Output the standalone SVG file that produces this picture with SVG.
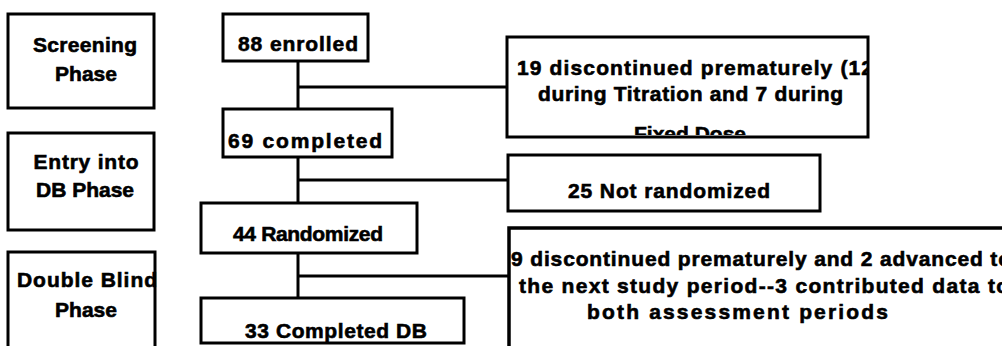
<svg xmlns="http://www.w3.org/2000/svg" width="1002" height="346" viewBox="0 0 1002 346">
<style>
.box{fill:#fff;stroke:#000;stroke-width:3}
.ln{stroke:#000;stroke-width:3;fill:none}
text{font-family:"Liberation Sans",Arial,sans-serif;font-weight:bold;font-size:21px;fill:#000;stroke:#000;stroke-width:0.6}
.m{text-anchor:middle}
</style>
<defs>
<clipPath id="c19"><rect x="508" y="38" width="359" height="97"/></clipPath>
<clipPath id="c9"><rect x="510" y="230" width="500" height="120"/></clipPath>
</defs>
<rect width="1002" height="346" fill="#fff"/>
<g id="connectors">
<line class="ln" x1="298" y1="61" x2="298" y2="108"/>
<line class="ln" x1="298" y1="157" x2="298" y2="203"/>
<line class="ln" x1="298" y1="253" x2="298" y2="298"/>
<line class="ln" x1="298" y1="87" x2="507" y2="87"/>
<line class="ln" x1="298" y1="180" x2="508" y2="180"/>
<line class="ln" x1="298" y1="276" x2="509" y2="276"/>
</g>
<g id="phase-screening">
<rect class="box" x="8" y="14" width="146" height="94"/>
<text class="m" x="85" y="52" textLength="104" lengthAdjust="spacing">Screening</text>
<text class="m" x="86" y="81">Phase</text>
</g>
<g id="phase-entry">
<rect class="box" x="8" y="133" width="146" height="97"/>
<text class="m" x="86" y="169" textLength="105" lengthAdjust="spacing">Entry  into</text>
<text class="m" x="85" y="197">DB Phase</text>
</g>
<g id="phase-db">
<rect class="box" x="8" y="252" width="147" height="110"/>
<text x="17" y="287" textLength="140" lengthAdjust="spacing">Double Blind</text>
<text class="m" x="86" y="317">Phase</text>
</g>
<g id="enrolled">
<rect class="box" x="223" y="14" width="145" height="47"/>
<text x="238" y="51" textLength="120" lengthAdjust="spacing">88  enrolled</text>
</g>
<g id="completed69">
<rect class="box" x="223" y="109" width="169" height="48"/>
<text x="228" y="148" textLength="154" lengthAdjust="spacing">69  completed</text>
</g>
<g id="randomized44">
<rect class="box" x="201" y="203" width="216" height="50"/>
<text x="233" y="241" textLength="150" lengthAdjust="spacing">44 Randomized</text>
</g>
<g id="completed33">
<rect class="box" x="201" y="298" width="263" height="45"/>
<text x="245" y="338" textLength="182" lengthAdjust="spacing">33 Completed DB</text>
</g>
<g id="discontinued19">
<rect class="box" x="507" y="37" width="361" height="100"/>
<g clip-path="url(#c19)">
<text x="517" y="75" textLength="356" lengthAdjust="spacing">19  discontinued  prematurely  (12</text>
<text x="538" y="101" textLength="305" lengthAdjust="spacing">during  Titration  and  7  during</text>
<text class="m" x="690" y="141">Fixed Dose</text>
</g>
</g>
<g id="notrandomized25">
<rect class="box" x="508" y="155" width="312" height="56"/>
<text x="568" y="198" textLength="202" lengthAdjust="spacing">25 Not randomized</text>
</g>
<g id="discontinued9">
<rect class="box" x="509" y="228" width="510" height="130" style="stroke-width:3.5"/>
<g clip-path="url(#c9)">
<text x="511" y="266" textLength="500" lengthAdjust="spacing">9 discontinued prematurely and 2 advanced to</text>
<text x="519" y="293" textLength="490" lengthAdjust="spacing">the next study period--3 contributed data to</text>
<text x="587" y="319" textLength="301" lengthAdjust="spacing">both assessment periods</text>
</g>
</g>
</svg>
